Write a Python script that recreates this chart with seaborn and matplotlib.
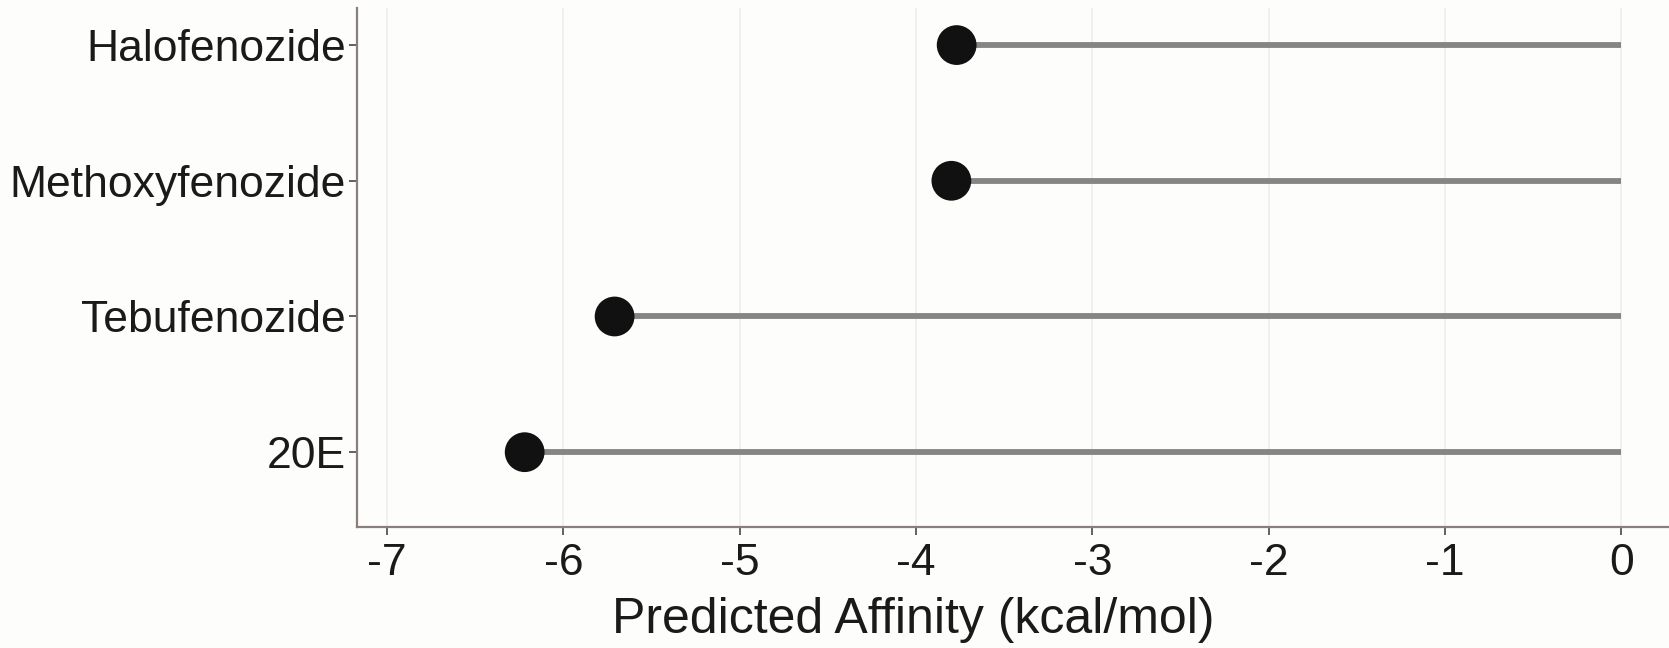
import matplotlib
matplotlib.use("Agg")
import matplotlib.pyplot as plt
import seaborn as sns
import pandas as pd

compounds = ["20E", "Tebufenozide", "Methoxyfenozide", "Halofenozide"]
affinity = [-6.22, -5.71, -3.80, -3.77]
xticks = [-7, -6, -5, -4, -3, -2, -1, 0]

df = pd.DataFrame({"compound": compounds, "affinity": affinity})

sns.set_theme(style="white")
plt.rcParams["font.family"] = ["Liberation Sans", "DejaVu Sans"]

fig = plt.figure(figsize=(16.69, 6.48), dpi=100)
fig.patch.set_facecolor("#fdfdfc")
ax = fig.add_axes([0.214, 0.187, 0.786, 0.800])
ax.set_facecolor("#fdfdfc")

ax.hlines(df["compound"], 0, df["affinity"], color="#858585", lw=4.2, zorder=2)
sns.scatterplot(data=df, x="affinity", y="compound", s=820, color="#111111",
                edgecolor="none", ax=ax, zorder=3)

ax.set_xlim(-7.17, 0.27)
ax.set_ylim(-0.55, 3.27)
ax.set_xticks(xticks)
ax.set_xticklabels([str(t) for t in xticks])
ax.grid(axis="x", color="#eeeeee", lw=1.2)
ax.grid(axis="y", visible=False)

for s in ["top", "right"]:
    ax.spines[s].set_visible(False)
for s in ["left", "bottom"]:
    ax.spines[s].set_color("#8a7f7d")
    ax.spines[s].set_linewidth(1.6)

ax.tick_params(axis="both", which="major", length=6, width=1.3, color="#555555",
               labelsize=32, labelcolor="#1a1a1a", pad=2,
               bottom=True, left=True)
ax.tick_params(axis="x", pad=6)
ax.set_ylabel("")
ax.set_xlabel("Predicted Affinity (kcal/mol)", fontsize=36, color="#1a1a1a")
ax.xaxis.set_label_coords(0.424, -0.135)

fig.savefig("out.png", dpi=100, facecolor=fig.get_facecolor())
